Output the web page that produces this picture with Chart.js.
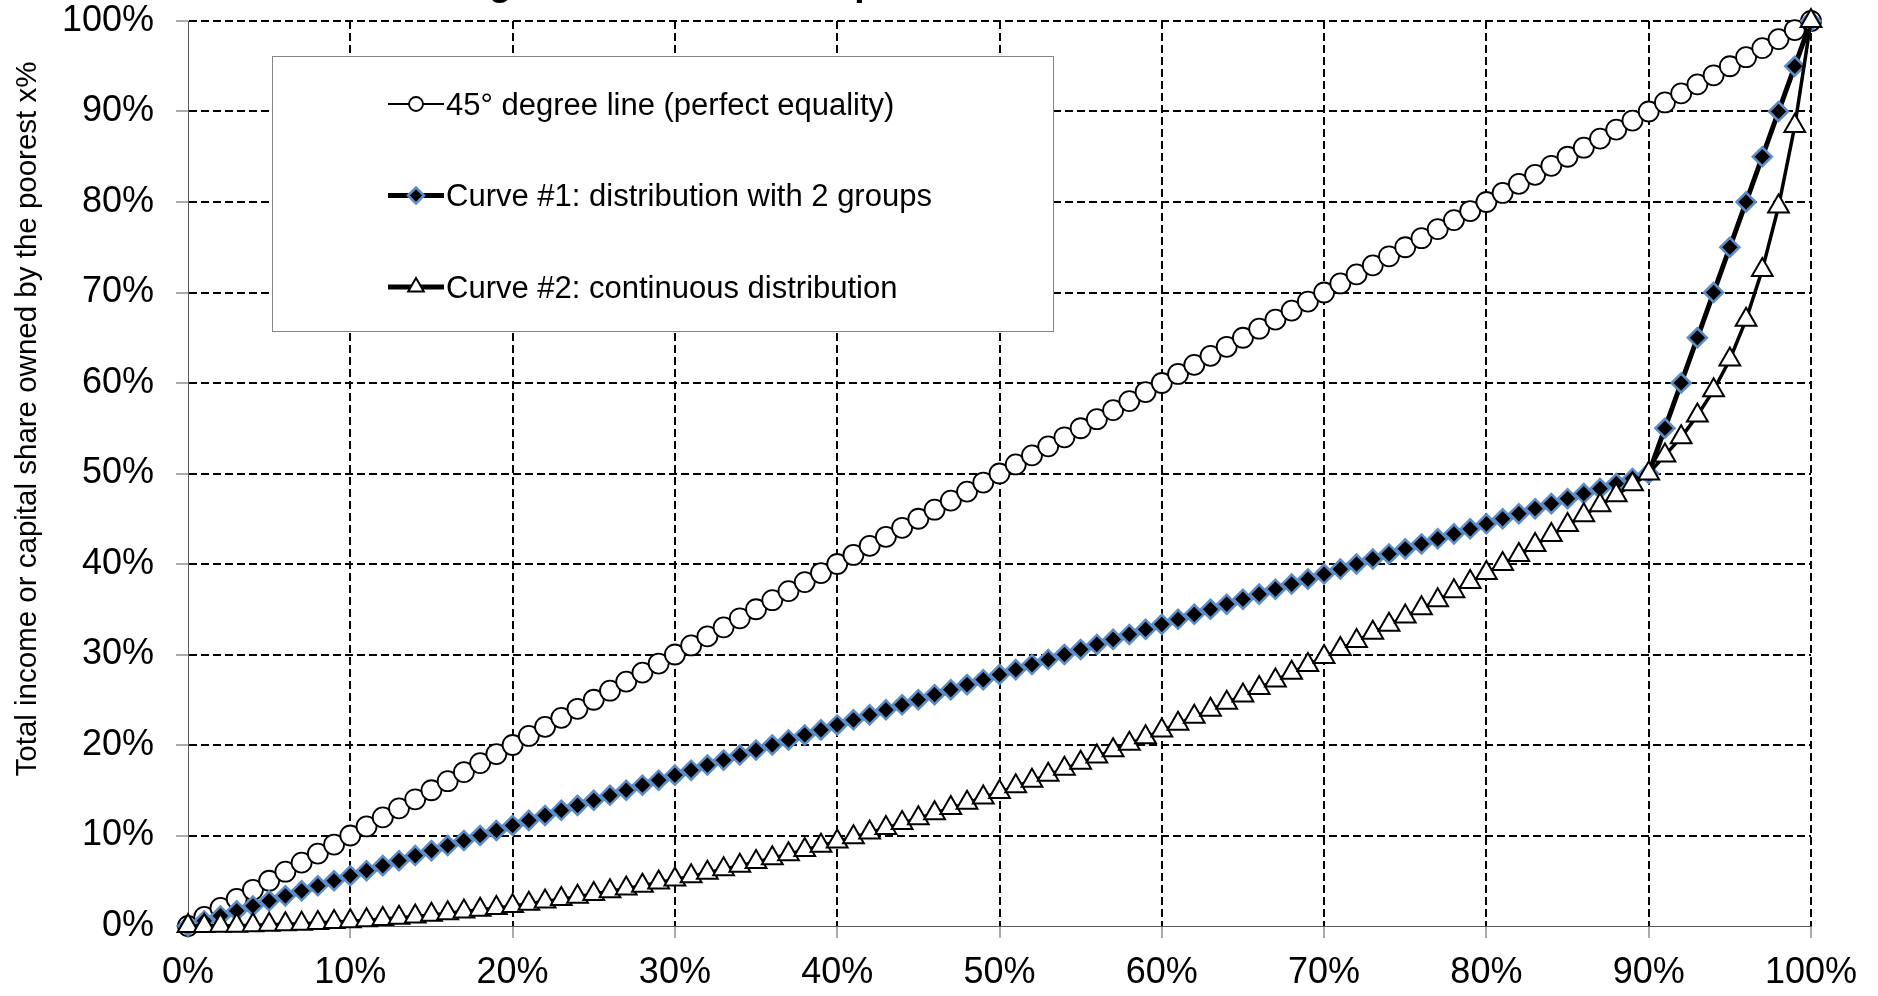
<!DOCTYPE html>
<html>
<head>
<meta charset="utf-8">
<title>Lorenz curves</title>
<script src="https://cdn.jsdelivr.net/npm/chart.js@4.4.1/dist/chart.umd.min.js"></script>
<style>
    html, body { margin: 0; padding: 0; background: #ffffff; }
    #wrap { width: 1878px; height: 996px; position: relative; }
</style>
</head>
<body>
<div id="wrap"><canvas id="lorenzChart"></canvas></div>
<script>
// poorest x% of the population (x axis)
const poorestShare = [
    0, 1, 2, 3, 4, 5, 6, 7, 8, 9, 10, 11, 12, 13, 14, 15, 16, 17, 18, 19,
    20, 21, 22, 23, 24, 25, 26, 27, 28, 29, 30, 31, 32, 33, 34, 35, 36, 37, 38, 39,
    40, 41, 42, 43, 44, 45, 46, 47, 48, 49, 50, 51, 52, 53, 54, 55, 56, 57, 58, 59,
    60, 61, 62, 63, 64, 65, 66, 67, 68, 69, 70, 71, 72, 73, 74, 75, 76, 77, 78, 79,
    80, 81, 82, 83, 84, 85, 86, 87, 88, 89, 90, 91, 92, 93, 94, 95, 96, 97, 98, 99, 100
];

// share owned, in %
const equalityLine = [
    0, 1, 2, 3, 4, 5, 6, 7, 8, 9, 10, 11, 12, 13, 14, 15, 16, 17, 18, 19,
    20, 21, 22, 23, 24, 25, 26, 27, 28, 29, 30, 31, 32, 33, 34, 35, 36, 37, 38, 39,
    40, 41, 42, 43, 44, 45, 46, 47, 48, 49, 50, 51, 52, 53, 54, 55, 56, 57, 58, 59,
    60, 61, 62, 63, 64, 65, 66, 67, 68, 69, 70, 71, 72, 73, 74, 75, 76, 77, 78, 79,
    80, 81, 82, 83, 84, 85, 86, 87, 88, 89, 90, 91, 92, 93, 94, 95, 96, 97, 98, 99, 100
];

const curveTwoGroups = [
    0, 0.56, 1.11, 1.67, 2.22, 2.78, 3.33, 3.89, 4.44, 5.00,
    5.56, 6.11, 6.67, 7.22, 7.78, 8.33, 8.89, 9.44, 10.00, 10.56,
    11.11, 11.67, 12.22, 12.78, 13.33, 13.89, 14.44, 15.00, 15.56, 16.11,
    16.67, 17.22, 17.78, 18.33, 18.89, 19.44, 20.00, 20.56, 21.11, 21.67,
    22.22, 22.78, 23.33, 23.89, 24.44, 25.00, 25.56, 26.11, 26.67, 27.22,
    27.78, 28.33, 28.89, 29.44, 30.00, 30.56, 31.11, 31.67, 32.22, 32.78,
    33.33, 33.89, 34.44, 35.00, 35.56, 36.11, 36.67, 37.22, 37.78, 38.33,
    38.89, 39.44, 40.00, 40.56, 41.11, 41.67, 42.22, 42.78, 43.33, 43.89,
    44.44, 45.00, 45.56, 46.11, 46.67, 47.22, 47.78, 48.33, 48.89, 49.44,
    50.00, 55, 60, 65, 70, 75, 80, 85, 90, 95, 100
];

const curveContinuous = [
    0, 0.00, 0.02, 0.04, 0.08, 0.13, 0.18, 0.25, 0.33, 0.43,
    0.53, 0.64, 0.77, 0.91, 1.06, 1.23, 1.40, 1.59, 1.79, 2.00,
    2.22, 2.46, 2.71, 2.97, 3.24, 3.53, 3.83, 4.14, 4.46, 4.80,
    5.14, 5.50, 5.88, 6.27, 6.66, 7.08, 7.50, 7.94, 8.39, 8.86,
    9.33, 9.82, 10.32, 10.84, 11.37, 11.91, 12.46, 13.03, 13.61, 14.20,
    14.81, 15.43, 16.06, 16.71, 17.37, 18.04, 18.72, 19.43, 20.14, 20.87,
    21.60, 22.35, 23.11, 23.89, 24.68, 25.48, 26.31, 27.14, 27.99, 28.85,
    29.72, 30.6, 31.5, 32.4, 33.3, 34.2, 35.1, 36.0, 37.0, 38.0,
    39.0, 40.0, 41.0, 42.1, 43.2, 44.3, 45.4, 46.5, 47.6, 48.8,
    50.0, 52.0, 54.0, 56.4, 59.2, 62.6, 67.0, 72.5, 79.5, 88.4, 100
];

const tickLabels = ['0%', '10%', '20%', '30%', '40%', '50%', '60%', '70%', '80%', '90%', '100%'];

const seriesLabels = [
    '45\u00b0 degree line (perfect equality)',
    'Curve #1: distribution with 2 groups',
    'Curve #2: continuous distribution'
];

const yAxisTitle = 'Total income or capital share owned by the poorest x%';
const chartTitle = 'Figure S0.1: Two examples of Lorenz curves';

const FONT = "'Liberation Sans', Arial, sans-serif";
const AXIS_GREY = '#595959';
const BLUE_EDGE = '#5b8dc9';

function toPoints(values) {
    return poorestShare.map((x, i) => ({ x: x, y: values[i] }));
}

// legend markers are drawn smaller than on the plot
const legendLook = [
    { lineWidth: 2, radius: 7 },
    { lineWidth: 5, radius: 8 },
    { lineWidth: 5, radius: 9 }
];

const decorations = {
    id: 'decorations',
    afterDraw(chart) {
        const ctx = chart.ctx;

        // title, cut off at the top edge: only descenders show
        ctx.save();
        ctx.font = 'bold 37px ' + FONT;
        ctx.fillStyle = '#000';
        ctx.textAlign = 'left';
        ctx.textBaseline = 'alphabetic';
        ctx.fillText(chartTitle, 456, -5);
        ctx.restore();

        // y axis title
        ctx.save();
        ctx.translate(36, 419);
        ctx.rotate(-Math.PI / 2);
        ctx.font = '29.5px ' + FONT;
        ctx.fillStyle = '#000';
        ctx.textAlign = 'center';
        ctx.textBaseline = 'alphabetic';
        ctx.fillText(yAxisTitle, 0, 0);
        ctx.restore();

        // legend box inside the plot
        ctx.save();
        ctx.fillStyle = '#fff';
        ctx.fillRect(272, 56, 781, 275);
        ctx.strokeStyle = '#868686';
        ctx.lineWidth = 1;
        ctx.strokeRect(272.5, 56.5, 781, 275);

        chart.data.datasets.forEach((ds, i) => {
            const y = 104 + i * 91.5;
            ctx.strokeStyle = '#000';
            ctx.lineWidth = legendLook[i].lineWidth;
            ctx.beginPath();
            ctx.moveTo(388, y);
            ctx.lineTo(444, y);
            ctx.stroke();

            ctx.fillStyle = ds.pointBackgroundColor;
            ctx.strokeStyle = ds.pointBorderColor;
            ctx.lineWidth = ds.pointBorderWidth;
            Chart.helpers.drawPoint(ctx, {
                pointStyle: ds.pointStyle,
                radius: legendLook[i].radius,
                rotation: 0,
                borderWidth: ds.pointBorderWidth
            }, 416, y);

            ctx.fillStyle = '#000';
            ctx.font = '31px ' + FONT;
            ctx.textAlign = 'left';
            ctx.textBaseline = 'middle';
            ctx.fillText(ds.label, 446, y + 2);
        });
        ctx.restore();
    }
};

function axisOptions(padding, fitFn) {
    return {
        type: 'linear',
        min: 0,
        max: 100,
        afterFit: fitFn,
        ticks: {
            stepSize: 10,
            autoSkip: false,
            maxRotation: 0,
            padding: padding,
            color: '#000',
            font: { family: FONT, size: 36 },
            callback: (v) => tickLabels[Math.round(v / 10)]
        },
        grid: {
            color: (c) => (c.tick && c.tick.value === 0) ? 'rgba(0,0,0,0)' : '#000',
            lineWidth: 2,
            borderDash: [8, 4],
            drawTicks: true,
            tickLength: 12,
            tickColor: AXIS_GREY,
            tickWidth: 1
        },
        border: {
            display: true,
            color: AXIS_GREY,
            width: 1,
            dash: [8, 4]
        }
    };
}

const lorenzCanvas = document.getElementById('lorenzChart').getContext('2d');

new Chart(lorenzCanvas, {
    type: 'line',
    data: {
        datasets: [
            {
                label: seriesLabels[0],
                data: toPoints(equalityLine),
                borderColor: '#000',
                borderWidth: 1.5,
                pointStyle: 'circle',
                pointRadius: 10,
                pointBackgroundColor: '#fff',
                pointBorderColor: '#000',
                pointBorderWidth: 1.8,
                tension: 0,
                clip: false,
                order: 3
            },
            {
                label: seriesLabels[1],
                data: toPoints(curveTwoGroups),
                borderColor: '#000',
                borderWidth: 5,
                pointStyle: 'rectRot',
                pointRadius: 9.5,
                pointBackgroundColor: '#000',
                pointBorderColor: BLUE_EDGE,
                pointBorderWidth: 2.5,
                tension: 0,
                clip: false,
                order: 2
            },
            {
                label: seriesLabels[2],
                data: toPoints(curveContinuous),
                borderColor: '#000',
                borderWidth: 3.5,
                pointStyle: 'triangle',
                pointRadius: 12,
                pointBackgroundColor: '#fff',
                pointBorderColor: '#000',
                pointBorderWidth: 2,
                tension: 0,
                clip: false,
                order: 1
            }
        ]
    },
    options: {
        responsive: true,
        maintainAspectRatio: false,
        animation: false,
        layout: { padding: { left: 0, right: 67, top: 21, bottom: 0 } },
        scales: {
            x: axisOptions(13, (s) => {
                s.height = 70;
                s.paddingLeft = 0;
                s.paddingRight = 0;
            }),
            y: axisOptions(22, (s) => {
                s.width = 188;
                s.paddingTop = 0;
                s.paddingBottom = 0;
            })
        },
        plugins: {
            legend: { display: false },
            tooltip: { enabled: false },
            title: { display: false }
        }
    },
    plugins: [decorations]
});
</script>
</body>
</html>
